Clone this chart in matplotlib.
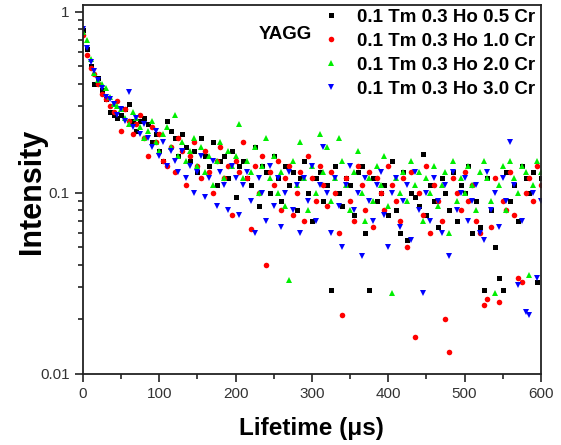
import numpy as np
import matplotlib
matplotlib.use("Agg")
import matplotlib.pyplot as plt
from matplotlib.ticker import LogLocator, FixedLocator, MultipleLocator

plt.rcParams['font.family'] = ['Liberation Sans', 'DejaVu Sans']

time_us = np.arange(0, 601, 5)

labels = ["0.1 Tm 0.3 Ho 0.5 Cr", "0.1 Tm 0.3 Ho 1.0 Cr",
          "0.1 Tm 0.3 Ho 2.0 Cr", "0.1 Tm 0.3 Ho 3.0 Cr"]

cr05 = [0.79, 0.62, 0.50, 0.40, 0.43, 0.37, 0.33, 0.28, 0.27, 0.26,
        0.27, 0.29, 0.31, 0.25, 0.22, 0.25, 0.26, 0.24, 0.19, 0.21,
        0.17, 0.15, 0.25, 0.22, 0.20, 0.16, 0.21, 0.18, 0.15, 0.17,
        0.13, 0.20, 0.16, 0.14, 0.19, 0.11, 0.15, 0.16, 0.12, 0.17,
        0.095, 0.14, 0.15, 0.12, 0.11, 0.18, 0.085, 0.14, 0.13, 0.10,
        0.16, 0.12, 0.09, 0.14, 0.11, 0.13, 0.08, 0.12, 0.15, 0.10,
        0.07, 0.12, 0.13, 0.09, 0.11, 0.029, 0.14, 0.10, 0.085, 0.12,
        0.11, 0.075, 0.13, 0.14, 0.06, 0.029, 0.12, 0.09, 0.10, 0.11,
        0.075, 0.15, 0.08, 0.06, 0.13, 0.055, 0.10, 0.095, 0.085, 0.164,
        0.075, 0.11, 0.09, 0.065, 0.12, 0.10, 0.08, 0.13, 0.07, 0.11,
        0.10, 0.14, 0.06, 0.09, 0.065, 0.029, 0.12, 0.08, 0.05, 0.034,
        0.029, 0.13, 0.09, 0.11, 0.07, 0.14, 0.12, 0.10, 0.13, 0.032,
        0.12]

cr10 = [0.74, 0.58, 0.49, 0.45, 0.40, 0.35, 0.33, 0.30, 0.28, 0.32,
        0.22, 0.29, 0.25, 0.21, 0.24, 0.27, 0.20, 0.16, 0.23, 0.19,
        0.21, 0.15, 0.14, 0.18, 0.13, 0.20, 0.17, 0.11, 0.16, 0.19,
        0.14, 0.12, 0.17, 0.13, 0.10, 0.15, 0.18, 0.12, 0.14, 0.075,
        0.15, 0.13, 0.19, 0.12, 0.063, 0.14, 0.10, 0.16, 0.04, 0.13,
        0.11, 0.15, 0.08, 0.12, 0.14, 0.075, 0.10, 0.13, 0.07, 0.16,
        0.12, 0.09, 0.14, 0.11, 0.085, 0.13, 0.10, 0.06, 0.021, 0.12,
        0.09, 0.07, 0.14, 0.11, 0.08, 0.13, 0.065, 0.12, 0.10, 0.08,
        0.14, 0.11, 0.09, 0.07, 0.12, 0.05, 0.13, 0.016, 0.10, 0.075,
        0.14, 0.06, 0.11, 0.09, 0.07, 0.020, 0.0132, 0.12, 0.10, 0.08,
        0.13, 0.09, 0.11, 0.07, 0.06, 0.024, 0.026, 0.065, 0.12, 0.025,
        0.09, 0.08, 0.13, 0.075, 0.034, 0.032, 0.10, 0.12, 0.09, 0.14,
        0.11]

cr20 = [0.77, 0.70, 0.55, 0.46, 0.42, 0.40, 0.38, 0.34, 0.31, 0.30,
        0.29, 0.26, 0.24, 0.28, 0.26, 0.23, 0.20, 0.22, 0.25, 0.19,
        0.17, 0.21, 0.23, 0.18, 0.27, 0.16, 0.19, 0.15, 0.17, 0.20,
        0.14, 0.18, 0.13, 0.16, 0.11, 0.15, 0.19, 0.12, 0.17, 0.14,
        0.16, 0.24, 0.12, 0.15, 0.13, 0.18, 0.10, 0.14, 0.20, 0.12,
        0.16, 0.10, 0.13, 0.085, 0.033, 0.15, 0.11, 0.19, 0.12, 0.08,
        0.14, 0.10, 0.21, 0.13, 0.18, 0.09, 0.12, 0.20, 0.15, 0.11,
        0.08, 0.13, 0.17, 0.10, 0.07, 0.12, 0.09, 0.14, 0.11, 0.16,
        0.085, 0.028, 0.12, 0.10, 0.13, 0.09, 0.15, 0.11, 0.13, 0.07,
        0.12, 0.10, 0.14, 0.085, 0.11, 0.13, 0.06, 0.15, 0.09, 0.12,
        0.10, 0.14, 0.11, 0.08, 0.13, 0.15, 0.12, 0.09, 0.028, 0.11,
        0.14, 0.08, 0.15, 0.12, 0.10, 0.14, 0.13, 0.035, 0.11, 0.15,
        0.13]

cr30 = [0.80, 0.63, 0.53, 0.47, 0.42, 0.38, 0.34, 0.33, 0.31, 0.27,
        0.29, 0.25, 0.36, 0.23, 0.26, 0.21, 0.24, 0.20, 0.18, 0.22,
        0.16, 0.19, 0.14, 0.17, 0.15, 0.13, 0.17, 0.12, 0.14, 0.10,
        0.13, 0.16, 0.095, 0.12, 0.15, 0.085, 0.13, 0.11, 0.08, 0.14,
        0.12, 0.075, 0.11, 0.13, 0.09, 0.06, 0.12, 0.10, 0.07, 0.14,
        0.085, 0.12, 0.065, 0.10, 0.13, 0.08, 0.11, 0.06, 0.12, 0.09,
        0.14, 0.07, 0.11, 0.18, 0.10, 0.06, 0.12, 0.085, 0.05, 0.11,
        0.14, 0.08, 0.10, 0.045, 0.12, 0.09, 0.07, 0.11, 0.13, 0.075,
        0.05, 0.10, 0.12, 0.065, 0.09, 0.11, 0.055, 0.13, 0.08, 0.028,
        0.10, 0.07, 0.12, 0.09, 0.06, 0.11, 0.045, 0.13, 0.08, 0.10,
        0.12, 0.07, 0.09, 0.11, 0.06, 0.055, 0.13, 0.08, 0.10, 0.065,
        0.12, 0.09, 0.19, 0.11, 0.031, 0.07, 0.022, 0.021, 0.10, 0.034,
        0.09]

series = [cr05, cr10, cr20, cr30]
colors = ["#000000", "#ff0000", "#00ee00", "#0000ff"]
markers = ["s", "o", "^", "v"]
msizes = [3.6, 4.0, 4.4, 4.4]

fig = plt.figure(figsize=(5.61, 4.45), dpi=100)
ax = fig.add_axes([0.148, 0.16, 0.816, 0.829])

handles = []
for ys, c, m, ms, lab in zip(series, colors, markers, msizes, labels):
    h, = ax.plot(time_us, ys, linestyle='none', marker=m, color=c,
                 markersize=ms, markeredgewidth=0, label=lab)
    handles.append(h)

ax.set_yscale('log')
ax.set_xlim(0, 600)
ax.set_ylim(0.01, 1.09)

ax.yaxis.set_major_locator(FixedLocator([0.01, 0.1, 1]))
ax.set_yticklabels(["0.01", "0.1", "1"])
ax.yaxis.set_minor_locator(LogLocator(base=10, subs=np.arange(2, 10)))
ax.yaxis.set_minor_formatter(plt.NullFormatter())
ax.xaxis.set_major_locator(MultipleLocator(100))
ax.xaxis.set_minor_locator(MultipleLocator(50))

ax.tick_params(which='both', direction='out', top=False, right=False,
               colors='#222222', labelcolor='#333333', width=1.2)
ax.tick_params(which='major', length=6, labelsize=11)
ax.tick_params(which='minor', length=3.5)
for s in ax.spines.values():
    s.set_linewidth(1.3)
    s.set_color('#222222')

fig.text(0.555, 0.0225, "Lifetime (\u03bcs)", ha='center', va='baseline',
         fontsize=17.5, fontweight='bold')
fig.text(0.083, 0.571, "Intensity", ha='right', va='center', rotation=90,
         fontsize=22, fontweight='bold')

ax.text(0.441, 0.919, "YAGG", transform=ax.transAxes, ha='center', va='center',
        fontsize=13.5, fontweight='bold')

leg = ax.legend(handles=handles, loc='upper right', bbox_to_anchor=(1.005, 1.01),
                frameon=False, prop={'size': 13.5, 'weight': 'bold'},
                handlelength=1.0, handletextpad=0.9, labelspacing=0.37,
                borderaxespad=0.0, markerscale=1.0)

fig.savefig("out.png", dpi=100)
